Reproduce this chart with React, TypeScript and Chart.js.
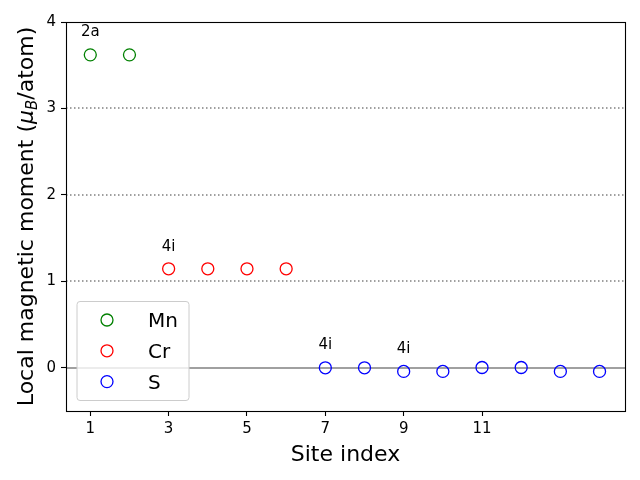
import React, { useEffect, useRef } from "react";
import { Chart, registerables } from "chart.js";

Chart.register(...registerables);

const FONT = "'DejaVu Sans', sans-serif";

const seriesNames = ["Mn", "Cr", "S"];
const seriesColors = ["green", "red", "blue"];
const mnSites = [1, 2];
const mnMoments = [3.62, 3.62];
const crSites = [3, 4, 5, 6];
const crMoments = [1.145, 1.145, 1.145, 1.145];
const sSites = [7, 8, 9, 10, 11, 12, 13, 14];
const sMoments = [0.0, 0.0, -0.042, -0.042, 0.003, 0.003, -0.042, -0.042];

const xTicks = [1, 3, 5, 7, 9, 11];
const yTicks = [0, 1, 2, 3, 4];
const dottedGridValues = [1, 2, 3];
const zeroLineValue = 0;

const annotationLabels = ["2a", "4i", "4i", "4i"];
const annotationSites = [1, 3, 7, 9];
const annotationValues = [3.88, 1.4, 0.26, 0.215];

const xTitle = "Site index";
const yTitleParts = ["Local magnetic moment (", "μ", "B", "/atom)"];

const toPoints = (xs: number[], ys: number[]) => xs.map((x, i) => ({ x, y: ys[i] }));

const decorPlugin = {
  id: "decor",
  beforeDatasetsDraw(chart: any) {
    const { ctx, chartArea: a, scales } = chart;
    const y = scales.y;
    ctx.save();
    ctx.beginPath();
    ctx.rect(a.left, a.top, a.right - a.left, a.bottom - a.top);
    ctx.clip();
    ctx.strokeStyle = "gray";
    ctx.lineWidth = 1.5;
    ctx.setLineDash([1.5, 2.5]);
    for (const v of dottedGridValues) {
      const py = Math.round(y.getPixelForValue(v));
      ctx.beginPath();
      ctx.moveTo(a.left, py);
      ctx.lineTo(a.right, py);
      ctx.stroke();
    }
    ctx.setLineDash([]);
    const pz = Math.round(y.getPixelForValue(zeroLineValue));
    ctx.beginPath();
    ctx.moveTo(a.left, pz);
    ctx.lineTo(a.right, pz);
    ctx.stroke();
    ctx.restore();
  },
  afterDraw(chart: any) {
    const { ctx, chartArea: a, scales } = chart;
    const x = scales.x;
    const y = scales.y;
    ctx.save();
    // frame
    ctx.strokeStyle = "#000";
    ctx.lineWidth = 1.1;
    ctx.strokeRect(Math.round(a.left) + 0.5, Math.round(a.top) + 0.5, Math.round(a.right - a.left), Math.round(a.bottom - a.top));

    // annotations
    ctx.fillStyle = "#000";
    ctx.font = `15px ${FONT}`;
    ctx.textAlign = "center";
    ctx.textBaseline = "middle";
    annotationLabels.forEach((t, i) => {
      ctx.fillText(t, x.getPixelForValue(annotationSites[i]), y.getPixelForValue(annotationValues[i]));
    });

    // legend
    const lx = a.left + 11, ly = 301.5, lw = 112, lh = 99;
    const r = 3;
    ctx.beginPath();
    ctx.moveTo(lx + r, ly);
    ctx.lineTo(lx + lw - r, ly);
    ctx.arcTo(lx + lw, ly, lx + lw, ly + r, r);
    ctx.lineTo(lx + lw, ly + lh - r);
    ctx.arcTo(lx + lw, ly + lh, lx + lw - r, ly + lh, r);
    ctx.lineTo(lx + r, ly + lh);
    ctx.arcTo(lx, ly + lh, lx, ly + lh - r, r);
    ctx.lineTo(lx, ly + r);
    ctx.arcTo(lx, ly, lx + r, ly, r);
    ctx.closePath();
    ctx.fillStyle = "rgba(255,255,255,0.8)";
    ctx.fill();
    ctx.strokeStyle = "rgba(204,204,204,1)";
    ctx.lineWidth = 1;
    ctx.stroke();
    ctx.font = `20px ${FONT}`;
    ctx.textAlign = "left";
    ctx.textBaseline = "alphabetic";
    chart.data.datasets.forEach((ds: any, i: number) => {
      const my = 320 + i * 30.8;
      ctx.beginPath();
      ctx.arc(lx + 30, my, 6, 0, Math.PI * 2);
      ctx.strokeStyle = ds.borderColor;
      ctx.lineWidth = 1.3;
      ctx.stroke();
      ctx.fillStyle = "#000";
      ctx.fillText(ds.label, lx + 71, my + 7);
    });

    // x title
    ctx.font = `22px ${FONT}`;
    ctx.textAlign = "center";
    ctx.fillText(xTitle, (a.left + a.right) / 2, 461);

    // y title with subscript
    const fMain = `22px ${FONT}`;
    const fIt = `italic 22px ${FONT}`;
    const fSub = `italic 15px ${FONT}`;
    const fonts = [fMain, fIt, fSub, fMain];
    const widths = yTitleParts.map((p, i) => {
      ctx.font = fonts[i];
      return ctx.measureText(p).width;
    });
    const total = widths.reduce((s, w) => s + w, 0);
    ctx.translate(33, (a.top + a.bottom) / 2);
    ctx.rotate(-Math.PI / 2);
    ctx.textAlign = "left";
    let cx = -total / 2;
    yTitleParts.forEach((p, i) => {
      ctx.font = fonts[i];
      ctx.fillText(p, cx, i === 2 ? 4 : 0);
      cx += widths[i];
    });
    ctx.restore();
  },
};

export default function App() {
  const ref = useRef<HTMLCanvasElement | null>(null);
  useEffect(() => {
    if (!ref.current) return;
    const tickCommon = { color: "#000", font: { family: FONT, size: 15 } };
    const chart = new Chart(ref.current, {
      type: "scatter",
      data: {
        datasets: [
          { label: seriesNames[0], data: toPoints(mnSites, mnMoments) },
          { label: seriesNames[1], data: toPoints(crSites, crMoments) },
          { label: seriesNames[2], data: toPoints(sSites, sMoments) },
        ].map((d, i) => ({
          ...d,
          borderColor: seriesColors[i],
          backgroundColor: "transparent",
          pointRadius: 6,
          pointHoverRadius: 6,
          pointBorderWidth: 1.3,
          pointStyle: "circle",
        })),
      },
      options: {
        animation: false,
        responsive: false,
        maintainAspectRatio: false,
        layout: { padding: { left: 0, right: 15, top: 22, bottom: 0 } },
        plugins: { legend: { display: false }, tooltip: { enabled: false } },
        scales: {
          x: {
            type: "linear",
            min: 0.38,
            max: 14.65,
            afterBuildTicks: (s: any) => {
              s.ticks = xTicks.map((v) => ({ value: v }));
            },
            afterFit: (s: any) => {
              s.height = 69;
            },
            grid: { drawOnChartArea: false, drawTicks: true, tickLength: 5, tickColor: "#000", tickWidth: 1.1 },
            border: { display: false },
            ticks: { ...tickCommon, padding: 4, maxRotation: 0, autoSkip: false },
          },
          y: {
            type: "linear",
            min: -0.5,
            max: 4,
            afterBuildTicks: (s: any) => {
              s.ticks = yTicks.map((v) => ({ value: v }));
            },
            afterFit: (s: any) => {
              s.width = 66;
            },
            grid: { drawOnChartArea: false, drawTicks: true, tickLength: 5, tickColor: "#000", tickWidth: 1.1 },
            border: { display: false },
            ticks: { ...tickCommon, padding: 5, autoSkip: false },
          },
        },
      } as any,
      plugins: [decorPlugin],
    });
    return () => chart.destroy();
  }, []);
  return (
    <div style={{ position: "fixed", left: 0, top: 0, width: 640, height: 480, background: "#fff" }}>
      <canvas ref={ref} width={640} height={480} style={{ display: "block" }} />
    </div>
  );
}
